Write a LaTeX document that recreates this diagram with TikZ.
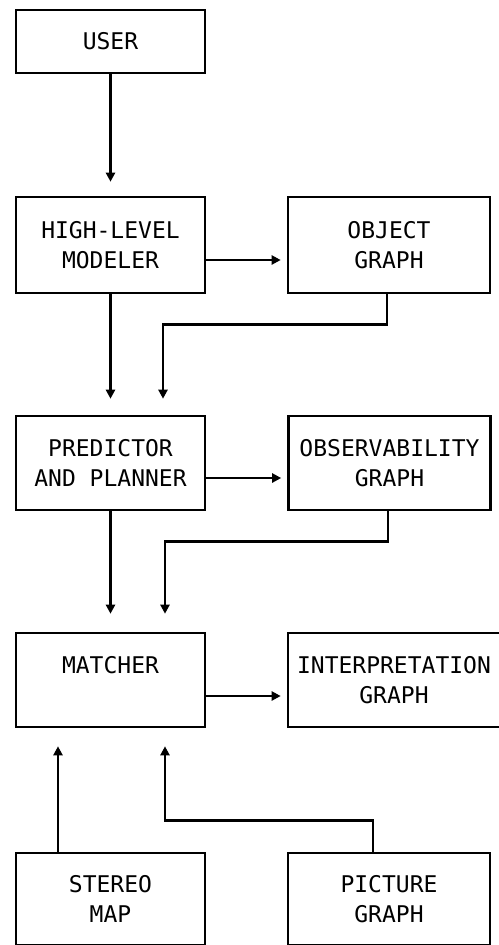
\documentclass[tikz,border=0pt]{standalone}
\usepackage{fontspec}
\setmainfont{DejaVu Sans Mono}
\usetikzlibrary{arrows.meta}

\begin{document}
\begin{tikzpicture}[x=1pt, y=1pt,
    box/.style={rectangle, draw, line width=2.6pt, minimum width=189pt,
                minimum height=94pt, align=center, inner sep=0pt,
                font=\fontsize{23}{30}\selectfont},
    wide/.style={box, minimum width=202pt},
    arrow/.style={-{Triangle[length=9pt, width=9pt]}, line width=2.6pt}]
  \useasboundingbox (0,0) rectangle (498,-945);
  % left column
  \node[box, minimum height=63pt] (user) at (110.5,-41.5) {USER};
  \node[box, minimum height=96pt] (modeler) at (110.5,-245)
        {HIGH-LEVEL\\MODELER};
  \node[box] (planner) at (110.5,-463) {PREDICTOR\\AND PLANNER};
  \node[box] (matcher) at (110.5,-680) {MATCHER\\\mbox{}};
  \node[box, minimum height=92pt] (stereo) at (110.5,-899) {STEREO\\MAP};
  % right column
  \node[wide, minimum height=96pt] (objgraph) at (389,-245) {OBJECT\\GRAPH};
  \node[wide] (obsgraph) at (389.5,-463) {OBSERVABILITY\\GRAPH};
  \node[wide, minimum width=212pt] (interp) at (394,-680)
        {INTERPRETATION\\GRAPH};
  \node[wide, minimum height=92pt] (picgraph) at (389,-899) {PICTURE\\GRAPH};
  % connectors
  \draw[arrow, shorten >=14pt] (user) -- (modeler);
  \draw[arrow, shorten >=6pt] ([yshift=-15pt]modeler.east)
        -- ([yshift=-15pt]modeler.east -| objgraph.west);
  \draw[arrow, shorten >=16pt] (modeler) -- (planner);
  \draw[arrow, shorten >=16pt] ([xshift=-2pt]objgraph.south) -- ++(0,-30)
        -| ([xshift=52.5pt]planner.north);
  \draw[arrow, shorten >=6pt] ([yshift=-15pt]planner.east)
        -- ([yshift=-15pt]planner.east -| obsgraph.west);
  \draw[arrow, shorten >=18pt] (planner) -- (matcher);
  \draw[arrow, shorten >=18pt] ([xshift=-1.5pt]obsgraph.south) -- ++(0,-30)
        -| ([xshift=54.5pt]matcher.north);
  \draw[arrow, shorten >=6pt] ([yshift=-16pt]matcher.east)
        -- ([yshift=-16pt]matcher.east -| interp.west);
  \draw[arrow, shorten >=18pt] ([xshift=-52.5pt]stereo.north)
        -- ([xshift=-52.5pt]matcher.south);
  \draw[arrow, shorten >=18pt] ([xshift=-16pt]picgraph.north) -- ++(0,31)
        -| ([xshift=54.5pt]matcher.south);
\end{tikzpicture}
\end{document}
